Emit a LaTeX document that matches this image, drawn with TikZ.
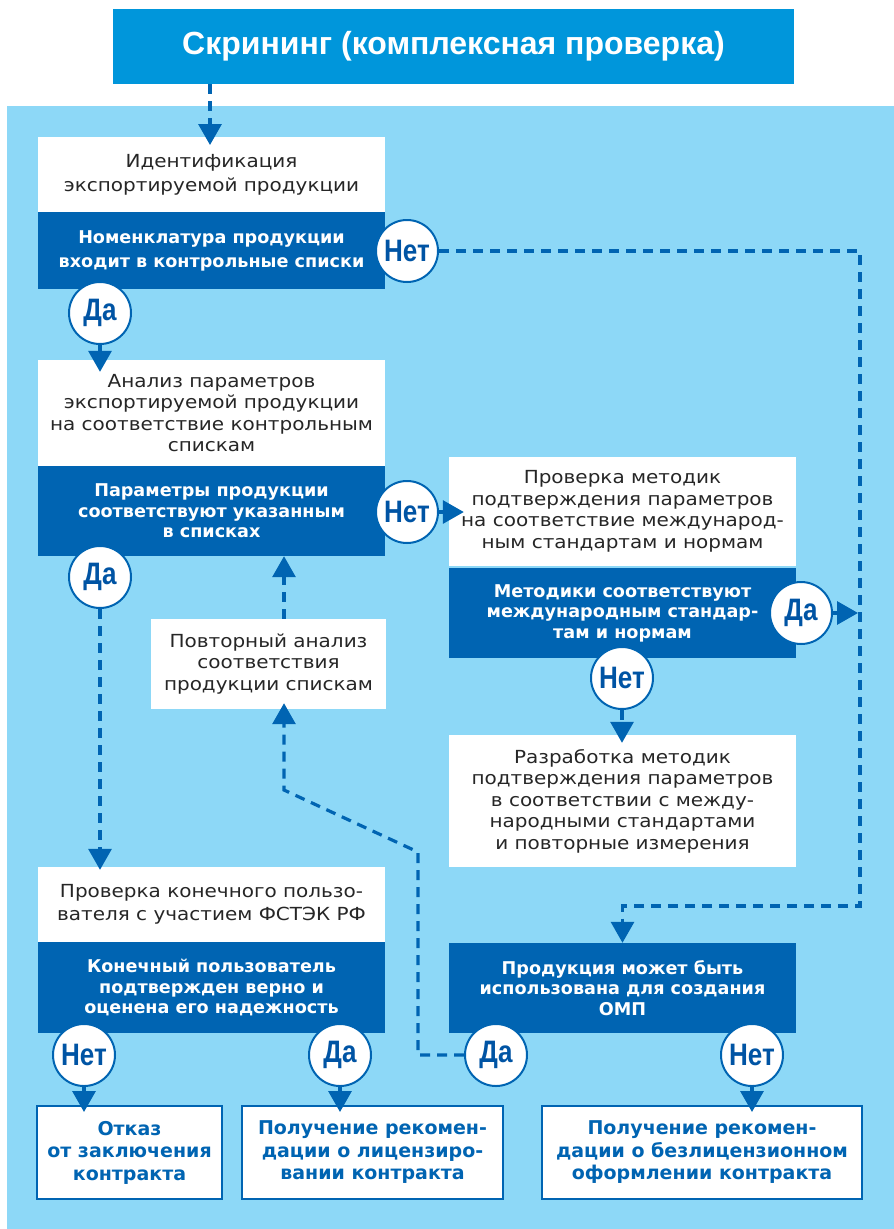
\documentclass[tikz,border=0pt]{standalone}
\usepackage{fontspec}
\setmainfont{DejaVu Sans}
\newfontfamily\regf[FakeStretch=1.11]{DejaVu Sans}
\newfontfamily\condf[FakeStretch=0.84]{Liberation Sans}
\newfontfamily\titlef{Liberation Sans}
\usetikzlibrary{arrows.meta,calc}
\definecolor{dblue}{RGB}{0,100,178}
\definecolor{lblue}{RGB}{141,216,247}
\definecolor{tblue}{RGB}{0,150,219}
\definecolor{ctext}{RGB}{0,84,164}
\begin{document}
\begin{tikzpicture}[x=1pt,y=-1pt,
  wbox/.style={fill=white, draw=none, inner sep=0pt, align=center, text=black!85, font=\regf\fontsize{18}{21.5}\selectfont},
  bbox/.style={fill=dblue, inner sep=0pt, align=center, text=white, font=\fontsize{17.6}{20.5}\selectfont\bfseries},
  obox/.style={fill=white, draw=dblue, line width=2pt, inner sep=0pt, align=center, text=dblue, font=\fontsize{19}{22.5}\selectfont\bfseries},
  yn/.style={circle, fill=white, draw=dblue, line width=2pt, minimum size=62pt, inner sep=0pt, text=ctext, font=\condf\bfseries\fontsize{31}{32}\selectfont},
  dl/.style={draw=dblue, line width=3.2pt, dash pattern=on 10pt off 7pt, -{Triangle[width=23pt,length=21pt]}},
]
\useasboundingbox (0,0) rectangle (894,1229);
\fill[white] (0,0) rectangle (894,1229);
\fill[lblue] (7,106) rectangle (894,1229);

% title
\node[fill=tblue, minimum width=681pt, minimum height=75pt, inner sep=0pt, text=white, font=\titlef\bfseries\fontsize{32}{34}\selectfont] (title) at (453.5,46.5) {Скрининг (комплексная проверка)};

% block A
\node[wbox, minimum width=347pt, minimum height=75pt, font=\regf\fontsize{18}{24}\selectfont] (Aw) at (211.5,174.5) {Идентификация\\экспортируемой продукции};
\node[bbox, minimum width=347pt, minimum height=77pt, font=\fontsize{17.6}{24}\selectfont\bfseries] (Ab) at (211.5,250.5) {Номенклатура продукции\\входит в контрольные списки};

% block B
\node[wbox, minimum width=347pt, minimum height=106pt] (Bw) at (211.5,413) {Анализ параметров\\экспортируемой продукции\\на соответствие контрольным\\спискам};
\node[bbox, minimum width=347pt, minimum height=90pt] (Bb) at (211.5,511) {Параметры продукции\\соответствуют указанным\\в списках};

% block C
\node[wbox, minimum width=347pt, minimum height=109pt] (Cw) at (622.5,511.5) {Проверка методик\\подтверждения параметров\\на соответствие международ-\\ным стандартам и нормам};
\node[bbox, minimum width=347pt, minimum height=90pt] (Cb) at (622.5,613) {Методики соответствуют\\международным стандар-\\там и нормам};

% block D
\node[wbox, minimum width=347pt, minimum height=132pt] (Dw) at (622.5,801) {Разработка методик\\подтверждения параметров\\в соответствии с между-\\народными стандартами\\и повторные измерения};

% block E
\node[wbox, minimum width=235pt, minimum height=90pt] (Ew) at (268.5,664) {Повторный анализ\\соответствия\\продукции спискам};

% block F
\node[wbox, minimum width=347pt, minimum height=75pt, font=\regf\fontsize{18}{23}\selectfont] (Fw) at (211.5,904.5) {Проверка конечного пользо-\\вателя с участием ФСТЭК РФ};
\node[bbox, minimum width=347pt, minimum height=91pt] (Fb) at (211.5,987.5) {Конечный пользователь\\подтвержден верно и\\оценена его надежность};

% block G
\node[bbox, minimum width=347pt, minimum height=90pt] (Gb) at (622.5,988) {Продукция может быть\\использована для создания\\ОМП};

% outcome boxes
\node[obox, minimum width=185pt, minimum height=93pt] (H1) at (129.5,1152.5) {Отказ\\от заключения\\контракта};
\node[obox, minimum width=261pt, minimum height=93pt] (H2) at (372.5,1152.5) {Получение рекомен-\\дации о лицензиро-\\вании контракта};
\node[obox, minimum width=320pt, minimum height=93pt] (H3) at (702,1152.5) {Получение рекомен-\\дации о безлицензионном\\оформлении контракта};

% helper coordinates
\coordinate (r1) at (860,251);
\coordinate (r2) at (860,906);
\coordinate (ex) at (284,700);
\coordinate (g1) at (418,852);
\coordinate (g2) at (284,790);

% decision circles
\node[yn] (Ano) at (407,251) {Нет};
\node[yn] (Ayes) at (100,313) {Да};
\node[yn] (Bno) at (407,512) {Нет};
\node[yn] (Byes) at (100,577) {Да};
\node[yn] (Cyes) at (801,613) {Да};
\node[yn] (Cno) at (622,678) {Нет};
\node[yn] (Fno) at (84,1055) {Нет};
\node[yn] (Fyes) at (340,1055) {Да};
\node[yn] (Gyes) at (496,1055) {Да};
\node[yn] (Gno) at (752,1055) {Нет};

% connectors
\draw[dl, shorten >=-8pt] (title.south -| 210,0) -- (210,137);
\draw[dl, shorten >=-12pt] (Ayes.south) -- (Ayes.south |- Bw.north);
\draw[dl] (Ano.east) -| (r2) -| (Gb.north);
\draw[dl, shorten >=-15pt] (Bno.east) -- (Bno.east -| Cw.west);
\draw[dl, shorten >=-3pt] (Byes.south) -- (Byes.south |- Fw.north);
\draw[dl, shorten >=2pt] (Cyes.east) -- (Cyes.east -| r1);
\draw[dl, shorten >=-8pt] (Cno.south) -- (Cno.south |- Dw.north);
\draw[dl] (ex |- Ew.north) -- (ex |- Bb.south);
\draw[dl, shorten >=-6pt] (Gyes.west) -| (g1) -- (g2) -- (g2 |- Ew.south);
\draw[dl, shorten >=-7pt] (Fno.south) -- (Fno.south |- H1.north);
\draw[dl, shorten >=-7pt] (Fyes.south) -- (Fyes.south |- H2.north);
\draw[dl, shorten >=-7pt] (Gno.south) -- (Gno.south |- H3.north);
\end{tikzpicture}
\end{document}
